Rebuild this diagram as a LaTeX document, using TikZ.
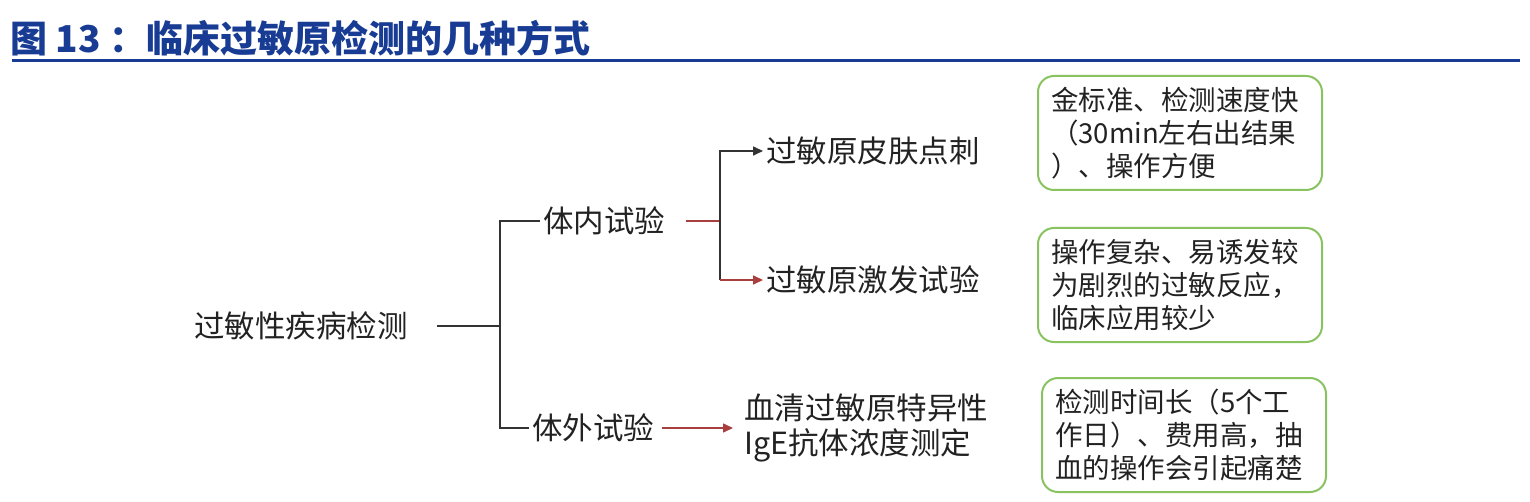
\documentclass[tikz,border=0pt]{standalone}
\usepackage{fontspec}
\setmainfont{Noto Sans CJK SC}
\usetikzlibrary{arrows.meta}
\definecolor{titleblue}{RGB}{24,60,148}
\definecolor{boxgreen}{RGB}{137,195,96}
\definecolor{linkred}{RGB}{168,62,62}
\definecolor{txtgray}{RGB}{34,34,34}
\definecolor{lingray}{RGB}{51,51,51}
\tikzset{
  item/.style={font=\fontsize{30.5}{35}\selectfont, text=txtgray, inner sep=3pt, anchor=west},
  note/.style={draw=boxgreen, line width=2pt, rounded corners=16pt, minimum width=284pt,
    minimum height=114pt, text width=258pt, align=left, inner sep=0pt,
    font=\fontsize{27.5}{33}\selectfont, text=txtgray},
  conn/.style={color=lingray, line width=1.6pt},
  redc/.style={color=linkred, line width=1.6pt},
}
\begin{document}
\begin{tikzpicture}[x=1pt, y=-1pt, >={Triangle[length=10pt,width=9pt]}]
  \useasboundingbox (0,0) rectangle (1530,502);
  % title and rule
  \node[anchor=west, inner sep=0pt, text=titleblue, font=\fontsize{37}{40}\selectfont\bfseries] (title) at (10,38) {图 13 ：临床过敏原检测的几种方式};
  \draw[titleblue, line width=3pt] (12,61) -- (1520,61);
  % tree
  \node[item] (root) at (191,326) {过敏性疾病检测};
  \node[item] (invivo) at (540,221) {体内试验};
  \node[item] (invitro) at (529,428) {体外试验};
  \node[item] (skin) at (763,151) {过敏原皮肤点刺};
  \node[item] (provoke) at (763,280) {过敏原激发试验};
  \node[item, align=left] (serum) at (741,428) {血清过敏原特异性\\IgE抗体浓度测定};
  % notes
  \node[note] (note1) at (1180,133) {金标准、检测速度快\\（30min左右出结果\\）、操作方便};
  \node[note] (note2) at (1180,285) {操作复杂、易诱发较\\为剧烈的过敏反应，\\临床应用较少};
  \node[note] (note3) at (1184,435) {检测时间长（5个工\\作日）、费用高，抽\\血的操作会引起痛楚};
  % connectors
  \coordinate (jroot) at (500,326);
  \coordinate (jvivo) at (720,219);
  \draw[conn] ([xshift=26pt]root.east) -- (root.east -| jroot);
  \draw[conn] (invivo.west) -- (invivo.west -| jroot) -- (invitro.west -| jroot) -- (invitro.west);
  \draw[redc] ([xshift=18pt]invivo.east) -- (invivo.east -| jvivo);
  \draw[conn,->] (invivo.east -| jvivo) |- (skin.west);
  \draw[conn] (invivo.east -| jvivo) -- (provoke.west -| jvivo);
  \draw[redc,->] (provoke.west -| jvivo) -- (provoke.west);
  \draw[redc,->, shorten <=5pt, shorten >=8pt] (invitro.east) -- (invitro.east -| serum.west);
\end{tikzpicture}
\end{document}
